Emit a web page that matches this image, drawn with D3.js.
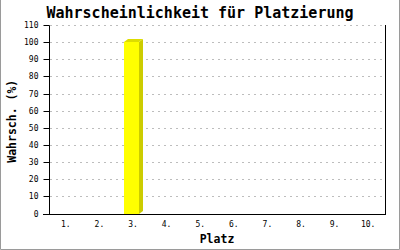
<!DOCTYPE html>
<html>
<head>
<meta charset="utf-8">
<script src="https://cdn.jsdelivr.net/npm/d3@7"></script>
<style>
  html, body { margin: 0; padding: 0; background: #fff; }
  svg { display: block; }
</style>
</head>
<body>
<svg id="chart" width="400" height="250"></svg>
<script>
// Chart data
const places = ["1.", "2.", "3.", "4.", "5.", "6.", "7.", "8.", "9.", "10."];
const probability = [0, 0, 100, 0, 0, 0, 0, 0, 0, 0];
const yTicks = [0, 10, 20, 30, 40, 50, 60, 70, 80, 90, 100, 110];

const W = 400, H = 250;
const margin = { left: 49, right: 15, top: 25, bottom: 36.5 };
const svg = d3.select("#chart");
const mono = "'DejaVu Sans Mono', 'Liberation Mono', monospace";

// outer frame
svg.append("path")
  .attr("d", `M0.5,0 V${H - 0.5} H${W - 0.5} V0`)
  .attr("fill", "none").attr("stroke", "#9a9a9a").attr("stroke-width", 1);

const x = d3.scaleBand().domain(places).range([margin.left, W - margin.right]).padding(0);
const y = d3.scaleLinear().domain([0, 110]).range([H - margin.bottom, margin.top]);

// horizontal dashed grid
svg.append("g").selectAll("line").data(yTicks.filter(d => d > 0)).join("line")
  .attr("x1", margin.left + 1).attr("x2", W - margin.right - 1)
  .attr("y1", d => Math.round(y(d)) + 0.5).attr("y2", d => Math.round(y(d)) + 0.5)
  .attr("stroke", "#bdbdbd").attr("stroke-dasharray", "2,4");

// bars with a small 3D side and top
const depthX = 4, depthY = 3;
const barW = 15;
const bars = svg.append("g");
places.forEach((p, i) => {
  const v = probability[i];
  if (v <= 0) return;
  const cx = x(p) + x.bandwidth() / 2;
  const x0 = Math.round(cx - (barW + depthX) / 2);
  const x1 = x0 + barW;
  const yt = Math.round(y(v));
  const yb = Math.round(y(0));
  // side face
  bars.append("path")
    .attr("d", `M${x1},${yt} L${x1 + depthX},${yt - depthY} L${x1 + depthX},${yb - depthY} L${x1},${yb} Z`)
    .attr("fill", "#cccc00");
  // top face
  bars.append("path")
    .attr("d", `M${x0},${yt} L${x0 + depthX},${yt - depthY} L${x1 + depthX},${yt - depthY} L${x1},${yt} Z`)
    .attr("fill", "#dddd00");
  // front face
  bars.append("rect")
    .attr("x", x0).attr("y", yt).attr("width", barW).attr("height", yb - yt)
    .attr("fill", "#ffff00");
});

// right frame line
svg.append("line")
  .attr("x1", W - margin.right + 0.5).attr("x2", W - margin.right + 0.5)
  .attr("y1", margin.top).attr("y2", Math.round(y(0)) + 1)
  .attr("stroke", "#000");

// y axis
const yAxis = svg.append("g")
  .attr("transform", `translate(${margin.left + 0.5},0.5)`)
  .call(d3.axisLeft(y).tickValues(yTicks).tickSize(6).tickPadding(5).tickSizeOuter(0));
yAxis.select(".domain").attr("d", `M0,${Math.round(y(110))}V${Math.round(y(0))}`);
yAxis.selectAll(".tick").attr("transform", d => `translate(0,${Math.round(y(d))})`);
yAxis.selectAll("text").attr("font-family", mono).attr("font-size", 8).attr("fill", "#000");

// x axis
const xAxis = svg.append("g")
  .attr("transform", `translate(0,${Math.round(y(0)) + 0.5})`)
  .call(d3.axisBottom(x).tickSize(0).tickPadding(7).tickSizeOuter(0));
xAxis.select(".domain").attr("d", `M${margin.left - 6},0H${W - margin.right}`);
xAxis.selectAll("text").attr("font-family", mono).attr("font-size", 8).attr("fill", "#000");

// titles
svg.append("text")
  .attr("x", W / 2).attr("y", 18).attr("text-anchor", "middle")
  .attr("font-family", mono).attr("font-weight", "bold").attr("font-size", 15)
  .text("Wahrscheinlichkeit für Platzierung");

svg.append("text")
  .attr("x", (margin.left + W - margin.right) / 2).attr("y", 243).attr("text-anchor", "middle")
  .attr("font-family", mono).attr("font-weight", "bold").attr("font-size", 11.5)
  .text("Platz");

svg.append("text")
  .attr("transform", `translate(16,${(margin.top + y(0)) / 2 + 2}) rotate(-90)`)
  .attr("text-anchor", "middle")
  .attr("font-family", mono).attr("font-weight", "bold").attr("font-size", 11.5)
  .text("Wahrsch. (%)");
</script>
</body>
</html>
